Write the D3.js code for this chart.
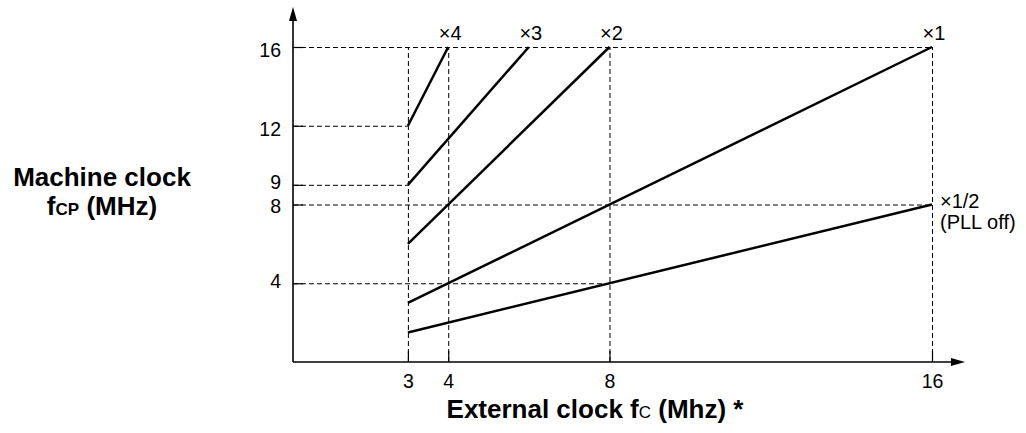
<!DOCTYPE html>
<html><head><meta charset="utf-8">
<script src="https://cdn.jsdelivr.net/npm/d3@7/dist/d3.min.js"></script>
<style>body{margin:0;background:#fff}svg{display:block}text{font-family:"Liberation Sans",Arial,sans-serif}</style>
</head><body><svg id="c" width="1026" height="433"></svg>
<script>
// Data
const xTicks = [3, 4, 8, 16];
const yTicks = [4, 8, 9, 12, 16];
const seriesNames = ["×4", "×3", "×2", "×1", "×1/2"];
const seriesStart = [[3, 12], [3, 9], [3, 6], [3, 3], [3, 1.5]];
const seriesEnd = [[4, 16], [6, 16], [8, 16], [16, 16], [16, 8]];
// dashed guide extents: horizontal y -> x end, vertical x -> y end
const hGuides = [[16, 16], [12, 3], [9, 3], [8, 16], [4, 8]];
const vGuides = [[3, 16], [4, 16], [8, 16], [16, 16]];

const svg = d3.select("#c");
const x = d3.scaleLinear().domain([0.15, 16]).range([293, 932]);
const y = d3.scaleLinear().domain([0, 16]).range([362, 47]);
const x0 = x.range()[0], y0 = y.range()[0];
const dash = "5,3";

// dashed guides
svg.selectAll("line.h").data(hGuides).join("line")
  .attr("x1", x0).attr("x2", d => x(d[1]))
  .attr("y1", d => y(d[0]) + 0.5).attr("y2", d => y(d[0]) + 0.5)
  .attr("stroke", "#000").attr("stroke-width", 1).attr("stroke-dasharray", dash);
svg.selectAll("line.v").data(vGuides).join("line")
  .attr("x1", d => x(d[0]) + 0.5).attr("x2", d => x(d[0]) + 0.5)
  .attr("y1", y0).attr("y2", d => y(d[1]))
  .attr("stroke", "#000").attr("stroke-width", 1).attr("stroke-dasharray", dash);

// solid ticks
svg.selectAll("line.yt").data(yTicks).join("line")
  .attr("x1", x0).attr("x2", x0 + 10)
  .attr("y1", d => y(d) + 0.5).attr("y2", d => y(d) + 0.5)
  .attr("stroke", "#000").attr("stroke-width", 1.2);
svg.selectAll("line.xt").data(xTicks).join("line")
  .attr("x1", d => x(d) + 0.5).attr("x2", d => x(d) + 0.5)
  .attr("y1", y0).attr("y2", y0 - 11)
  .attr("stroke", "#000").attr("stroke-width", 1.2);

// axes
svg.append("line").attr("x1", x0).attr("x2", 955).attr("y1", y0).attr("y2", y0)
  .attr("stroke", "#000").attr("stroke-width", 1.6);
svg.append("line").attr("x1", x0).attr("x2", x0).attr("y1", y0).attr("y2", 18)
  .attr("stroke", "#000").attr("stroke-width", 1.6);
svg.append("path").attr("d", `M${x0},7 L${x0-4},21 L${x0+4},21 Z`).attr("fill", "#000");
svg.append("path").attr("d", `M965,${y0} L951,${y0-4} L951,${y0+4} Z`).attr("fill", "#000");

// series lines
svg.selectAll("line.s").data(seriesNames).join("line")
  .attr("x1", (d, i) => x(seriesStart[i][0])).attr("y1", (d, i) => y(seriesStart[i][1]))
  .attr("x2", (d, i) => x(seriesEnd[i][0])).attr("y2", (d, i) => y(seriesEnd[i][1]))
  .attr("stroke", "#000").attr("stroke-width", 2.5);

// series labels
svg.selectAll("text.sl").data(seriesNames.slice(0, 4)).join("text")
  .attr("x", (d, i) => x(seriesEnd[i][0]) + 2).attr("y", 40)
  .attr("text-anchor", "middle").attr("font-size", 20).text(d => d);
svg.append("text").attr("x", 940).attr("y", 208).attr("font-size", 20).text(seriesNames[4]);
svg.append("text").attr("x", 940).attr("y", 229).attr("font-size", 20).text("(PLL off)");

// tick labels
const yOff = {16: 10, 12: 10, 9: 4, 8: 8.5, 4: 5};
svg.selectAll("text.yl").data(yTicks).join("text")
  .attr("x", 281).attr("y", d => y(d) + yOff[d])
  .attr("text-anchor", "end").attr("font-size", 19.5).text(d => d);
svg.selectAll("text.xl").data(xTicks).join("text")
  .attr("x", d => x(d) + 0.5).attr("y", 388)
  .attr("text-anchor", "middle").attr("font-size", 19.5).text(d => d);

// axis titles
svg.append("text").attr("x", 102).attr("y", 186).attr("text-anchor", "middle")
  .attr("font-size", 26).attr("font-weight", "bold").text("Machine clock");
const yt2 = svg.append("text").attr("x", 102).attr("y", 215).attr("text-anchor", "middle")
  .attr("font-size", 26).attr("font-weight", "bold");
yt2.append("tspan").text("f");
yt2.append("tspan").attr("font-size", 17).text("CP");
yt2.append("tspan").text(" (MHz)");
const xt = svg.append("text").attr("x", 595).attr("y", 418).attr("text-anchor", "middle")
  .attr("font-size", 26).attr("font-weight", "bold");
xt.append("tspan").text("External clock f");
xt.append("tspan").attr("font-size", 17).attr("font-weight", "normal").text("C");
xt.append("tspan").text(" (Mhz) *");
</script></body></html>
